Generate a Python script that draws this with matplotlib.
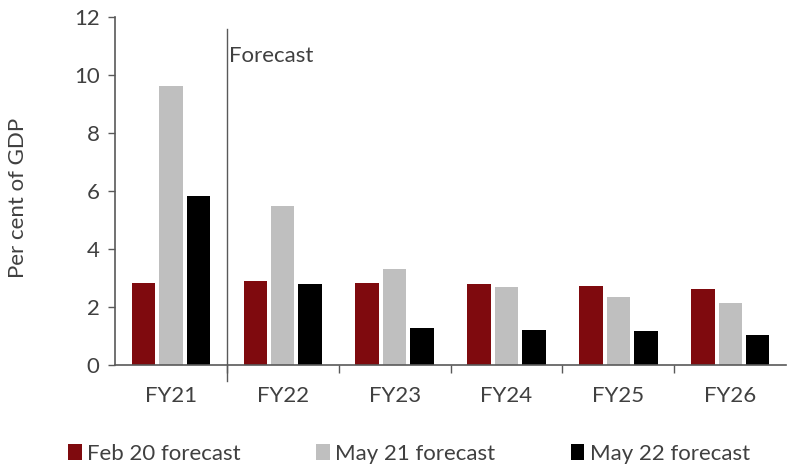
import numpy as np
import matplotlib.pyplot as plt
from matplotlib.patches import Patch

plt.rcParams["font.family"] = ["Lato", "DejaVu Sans"]

YEARS  = ["FY21", "FY22", "FY23", "FY24", "FY25", "FY26"]
FEB20  = [2.83, 2.91, 2.83, 2.78, 2.74, 2.62]
MAY21  = [9.63, 5.48, 3.31, 2.69, 2.34, 2.13]
MAY22  = [5.82, 2.79, 1.26, 1.21, 1.17, 1.04]
SERIES = ["Feb 20 forecast", "May 21 forecast", "May 22 forecast"]
COLORS = ["#7f0a0e", "#bfbfbf", "#000000"]
TEXT   = "#404040"
AXIS   = "#595959"
FS     = 16

fig = plt.figure(figsize=(7.87, 4.66), dpi=100)
ax = fig.add_axes([0.146, 0.217, 0.853, 0.746])

x     = np.arange(len(YEARS))
width = 0.21
step  = 0.245
for i, (vals, col) in enumerate(zip([FEB20, MAY21, MAY22], COLORS)):
    ax.bar(x + (i - 1) * step, vals, width, color=col, edgecolor="none", zorder=2)

ax.set_xlim(-0.5, len(YEARS) - 0.5)
ax.set_ylim(0, 12)
ax.set_yticks(range(0, 13, 2))
ax.set_xticks(x)
ax.set_xticklabels(YEARS)
ax.set_xticks(np.arange(0.5, len(YEARS) - 0.5, 1), minor=True)
ax.tick_params(axis="x", which="major", length=0, pad=15, labelsize=FS, labelcolor=TEXT)
ax.tick_params(axis="x", which="minor", length=6, width=1, color=AXIS, direction="out")
ax.tick_params(axis="y", length=5, width=1, color=AXIS, direction="out",
               labelsize=FS, labelcolor=TEXT, pad=6)

for s in ["top", "right"]:
    ax.spines[s].set_visible(False)
for s in ["left", "bottom"]:
    ax.spines[s].set_color(AXIS)
    ax.spines[s].set_linewidth(1.2)

ax.set_ylabel("Per cent of GDP", fontsize=FS, color=TEXT, va="center")
ax.yaxis.set_label_coords(-0.145, 0.48)

# forecast divider
ax.plot([0.5, 0.5], [-0.55, 11.6], color=AXIS, lw=1, clip_on=False, zorder=3)
ax.text(0.52, 10.65, "Forecast", fontsize=FS, color=TEXT, ha="left", va="center")

handles = [Patch(facecolor=c, edgecolor="none") for c in COLORS]
fig.legend(handles, SERIES, loc="center", bbox_to_anchor=(0.52, 0.026), ncol=3,
           frameon=False, fontsize=FS, labelcolor=TEXT, handlelength=0.6,
           handleheight=0.7, handletextpad=0.25, columnspacing=3.4,
           borderaxespad=0, borderpad=0)

plt.savefig("out.png", dpi=100)
